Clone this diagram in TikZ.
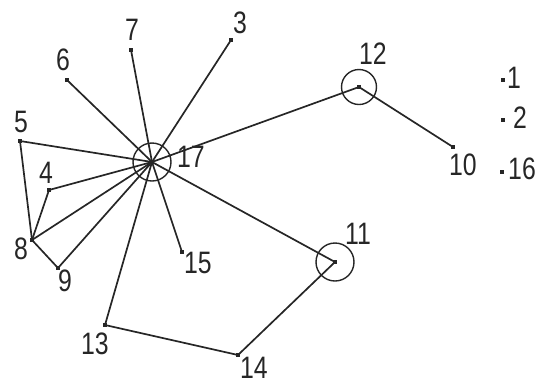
\documentclass[tikz,border=0pt]{standalone}
\usepackage{fontspec}
\newfontfamily\labfont[FakeStretch=0.8]{Liberation Sans}
\begin{document}
\begin{tikzpicture}[x=1pt,y=-1pt,
  dot/.style={rectangle,fill=black!85,inner sep=0pt,minimum size=3.5pt},
  ring/.style={circle,draw=black!85,line width=1.4pt,inner sep=0pt,minimum size=#1},
  edge/.style={draw=black!85,line width=1.7pt},
  lab/.style={inner sep=0pt,text=black!85,font=\labfont\fontsize{31}{31}\selectfont}]
\useasboundingbox (0,0) rectangle (536,384);
% vertices
\node[dot] (n17) at (152,162) {};
\node[dot] (n7) at (131,50) {};
\node[dot] (n3) at (231,40) {};
\node[dot] (n6) at (67,80) {};
\node[dot] (n5) at (20,141) {};
\node[dot] (n4) at (49,190) {};
\node[dot] (n8) at (32,240) {};
\node[dot] (n9) at (58,268) {};
\node[dot] (n15) at (182,252) {};
\node[dot] (n13) at (105,325) {};
\node[dot] (n14) at (238,355) {};
\node[dot] (n11) at (335,262) {};
\node[dot] (n12) at (359,87) {};
\node[dot] (n10) at (453,147) {};
\node[dot] (n1) at (503,80) {};
\node[dot] (n2) at (503,120) {};
\node[dot] (n16) at (502,172) {};
% loop circles
\node[ring=38pt] (c17) at (n17) {};
\node[ring=35pt] (c12) at (n12) {};
\node[ring=38pt] (c11) at (n11) {};
% edges
\foreach \t in {n7,n3,n6,n5,n4,n8,n9,n15,n13,n12,n11}
  \draw[edge] (n17.center) -- (\t.center);
\draw[edge] (n8.center) -- (n5.center);
\draw[edge] (n8.center) -- (n4.center);
\draw[edge] (n8.center) -- (n9.center);
\draw[edge] (n12.center) -- (n10.center);
\draw[edge] (n13.center) -- (n14.center);
\draw[edge] (n14.center) -- (n11.center);
% labels
\node[lab] (l7) at (132,30) {7};
\node[lab] (l3) at (240,23) {3};
\node[lab] (l6) at (63,60) {6};
\node[lab] (l5) at (21,122) {5};
\node[lab] (l4) at (46,173) {4};
\node[lab] (l17) at (191,157) {17};
\node[lab] (l12) at (373,54) {12};
\node[lab] (l1) at (514,78) {1};
\node[lab] (l2) at (520,118) {2};
\node[lab] (l16) at (522,169) {16};
\node[lab] (l10) at (463,165) {10};
\node[lab] (l8) at (21,249) {8};
\node[lab] (l9) at (65,281) {9};
\node[lab] (l15) at (198,263) {15};
\node[lab] (l11) at (358,234) {11};
\node[lab] (l13) at (95,344) {13};
\node[lab] (l14) at (254,368) {14};
\end{tikzpicture}
\end{document}
